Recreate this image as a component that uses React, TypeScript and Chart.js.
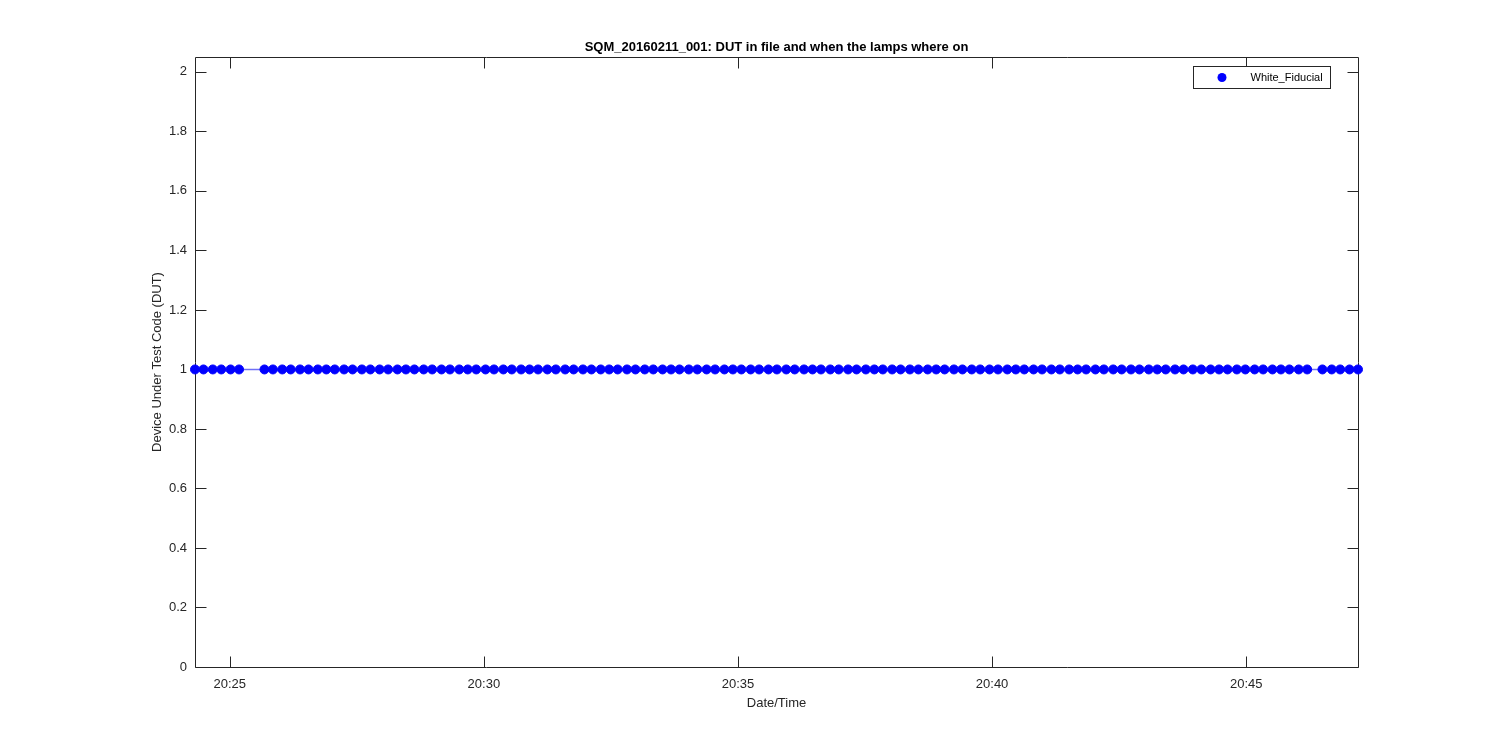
import React, { useEffect, useRef } from "react";
import { Chart, registerables } from "chart.js";

Chart.register(...registerables);

const chartTitle = "SQM_20160211_001: DUT in file and when the lamps where on";
const xAxisTitle = "Date/Time";
const yAxisTitle = "Device Under Test Code (DUT)";
const seriesLabel = "White_Fiducial";

// time axis origin: 20:24:00 (values are seconds after it)
const baseHour = 20;
const baseMinute = 24;

const timeSec = [
  19, 29, 40, 50, 61, 71,
  101, 111, 122, 132, 143, 153, 164, 174, 184, 195,
  205, 216, 226, 237, 247, 258, 268, 278, 289, 299,
  310, 320, 331, 341, 351, 362, 372, 383, 393, 404,
  414, 424, 435, 445, 456, 466, 477, 487, 498, 508,
  518, 529, 539, 550, 560, 571, 581, 591, 602, 612,
  623, 633, 644, 654, 664, 675, 685, 696, 706, 717,
  727, 738, 748, 758, 769, 779, 790, 800, 811, 821,
  831, 842, 852, 863, 873, 884, 894, 904, 915, 925,
  936, 946, 957, 967, 978, 988, 998, 1009, 1019, 1030,
  1040, 1051, 1061, 1071, 1082, 1092, 1103, 1113, 1124, 1134,
  1145, 1155, 1165, 1176, 1186, 1197, 1207, 1218, 1228, 1238,
  1249, 1259, 1270, 1280, 1291, 1301, 1311, 1322, 1332,
  1350, 1361, 1371, 1382, 1392,
];

const dutCode = [
  1, 1, 1, 1, 1, 1, 1, 1, 1, 1,
  1, 1, 1, 1, 1, 1, 1, 1, 1, 1,
  1, 1, 1, 1, 1, 1, 1, 1, 1, 1,
  1, 1, 1, 1, 1, 1, 1, 1, 1, 1,
  1, 1, 1, 1, 1, 1, 1, 1, 1, 1,
  1, 1, 1, 1, 1, 1, 1, 1, 1, 1,
  1, 1, 1, 1, 1, 1, 1, 1, 1, 1,
  1, 1, 1, 1, 1, 1, 1, 1, 1, 1,
  1, 1, 1, 1, 1, 1, 1, 1, 1, 1,
  1, 1, 1, 1, 1, 1, 1, 1, 1, 1,
  1, 1, 1, 1, 1, 1, 1, 1, 1, 1,
  1, 1, 1, 1, 1, 1, 1, 1, 1, 1,
  1, 1, 1, 1, 1, 1, 1, 1, 1, 1,
];

const xTickSec = [60, 360, 660, 960, 1260];
const yTicks = [0, 0.2, 0.4, 0.6, 0.8, 1, 1.2, 1.4, 1.6, 1.8, 2];
const yLimits = [0, 2.05];

const FONT = '"Liberation Sans", Arial, Helvetica, sans-serif';
const AXIS_COLOR = "#262626";
const BLUE = "#0000ff";
const TICK_LEN = 11;

function fmtTime(sec: number): string {
  const total = baseHour * 60 + baseMinute + Math.floor(sec / 60);
  const h = Math.floor(total / 60);
  const m = total % 60;
  return `${String(h).padStart(2, "0")}:${String(m).padStart(2, "0")}`;
}

const framePlugin = {
  id: "matlabFrame",
  beforeDatasetsDraw(chart: any) {
    const { ctx, chartArea: a, scales } = chart;
    const L = Math.round(a.left) + 0.5;
    const R = Math.round(a.right) + 0.5;
    const T = Math.round(a.top) + 0.5;
    const B = Math.round(a.bottom) + 0.5;
    ctx.save();
    ctx.strokeStyle = AXIS_COLOR;
    ctx.lineWidth = 1;
    ctx.beginPath();
    ctx.rect(L, T, R - L, B - T);
    for (const t of xTickSec) {
      const px = Math.round(scales.x.getPixelForValue(t)) + 0.5;
      ctx.moveTo(px, B);
      ctx.lineTo(px, B - TICK_LEN);
      ctx.moveTo(px, T);
      ctx.lineTo(px, T + TICK_LEN);
    }
    for (const v of yTicks) {
      const py = Math.round(scales.y.getPixelForValue(v)) + 0.5;
      ctx.moveTo(L, py);
      ctx.lineTo(L + TICK_LEN, py);
      ctx.moveTo(R, py);
      ctx.lineTo(R - TICK_LEN, py);
    }
    ctx.stroke();
    ctx.restore();
  },
  afterDraw(chart: any) {
    const { ctx, chartArea: a } = chart;
    const cx = (a.left + a.right) / 2;
    const cy = (a.top + a.bottom) / 2;
    ctx.save();
    // title
    ctx.fillStyle = "#000000";
    ctx.font = `bold 13px ${FONT}`;
    ctx.textAlign = "center";
    ctx.textBaseline = "alphabetic";
    ctx.fillText(chartTitle, cx, a.top - 6);
    // x axis title
    ctx.fillStyle = AXIS_COLOR;
    ctx.font = `13px ${FONT}`;
    ctx.fillText(xAxisTitle, cx, a.bottom + 40);
    // y axis title
    ctx.save();
    ctx.translate(161, cy);
    ctx.rotate(-Math.PI / 2);
    ctx.fillText(yAxisTitle, 0, 0);
    ctx.restore();
    // legend
    const lx = 1193.5, ly = 66.5, lw = 137, lh = 22;
    ctx.fillStyle = "#ffffff";
    ctx.fillRect(lx, ly, lw, lh);
    ctx.strokeStyle = AXIS_COLOR;
    ctx.lineWidth = 1;
    ctx.strokeRect(lx, ly, lw, lh);
    ctx.fillStyle = BLUE;
    ctx.beginPath();
    ctx.arc(1222, 77.5, 4.5, 0, Math.PI * 2);
    ctx.fill();
    ctx.fillStyle = "#000000";
    ctx.font = `11px ${FONT}`;
    ctx.textAlign = "left";
    ctx.textBaseline = "middle";
    ctx.fillText(seriesLabel, 1250.5, 77.5);
    ctx.restore();
  },
};

export default function App() {
  const canvasRef = useRef<HTMLCanvasElement | null>(null);

  useEffect(() => {
    if (!canvasRef.current) return;
    const points = timeSec.map((t, i) => ({ x: t, y: dutCode[i] }));
    const chart = new Chart(canvasRef.current, {
      type: "line",
      data: {
        datasets: [
          {
            label: seriesLabel,
            data: points,
            borderColor: "#6f6ff5",
            borderWidth: 1.5,
            backgroundColor: BLUE,
            pointBackgroundColor: BLUE,
            pointBorderColor: BLUE,
            pointBorderWidth: 1,
            pointRadius: 4.5,
            tension: 0,
            clip: false as any,
          },
        ],
      },
      options: {
        animation: false,
        responsive: false,
        devicePixelRatio: 1,
        events: [],
        layout: { padding: { top: 57, right: 142, left: 0, bottom: 0 } },
        plugins: {
          legend: { display: false },
          title: { display: false },
          tooltip: { enabled: false },
        },
        scales: {
          x: {
            type: "linear",
            min: timeSec[0],
            max: timeSec[timeSec.length - 1],
            grid: { display: false, drawTicks: false },
            border: { display: false },
            afterFit: (s: any) => {
              s.height = 83;
            },
            afterBuildTicks: (s: any) => {
              s.ticks = xTickSec.map((v) => ({ value: v }));
            },
            ticks: {
              padding: 10,
              maxRotation: 0,
              autoSkip: false,
              color: AXIS_COLOR,
              font: { family: FONT, size: 13 },
              callback: (v: any) => fmtTime(Number(v)),
            },
          },
          y: {
            type: "linear",
            min: yLimits[0],
            max: yLimits[1],
            grid: { display: false, drawTicks: false },
            border: { display: false },
            afterFit: (s: any) => {
              s.width = 195;
            },
            afterBuildTicks: (s: any) => {
              s.ticks = yTicks.map((v) => ({ value: v }));
            },
            ticks: {
              padding: 8,
              autoSkip: false,
              color: AXIS_COLOR,
              font: { family: FONT, size: 13 },
              callback: (v: any) => String(Math.round(Number(v) * 10) / 10),
            },
          },
        },
      },
      plugins: [framePlugin],
    });
    return () => chart.destroy();
  }, []);

  return (
    <div
      style={{
        position: "fixed",
        left: 0,
        top: 0,
        width: 1500,
        height: 750,
        background: "#ffffff",
      }}
    >
      <canvas ref={canvasRef} width={1500} height={750} style={{ display: "block" }} />
    </div>
  );
}
